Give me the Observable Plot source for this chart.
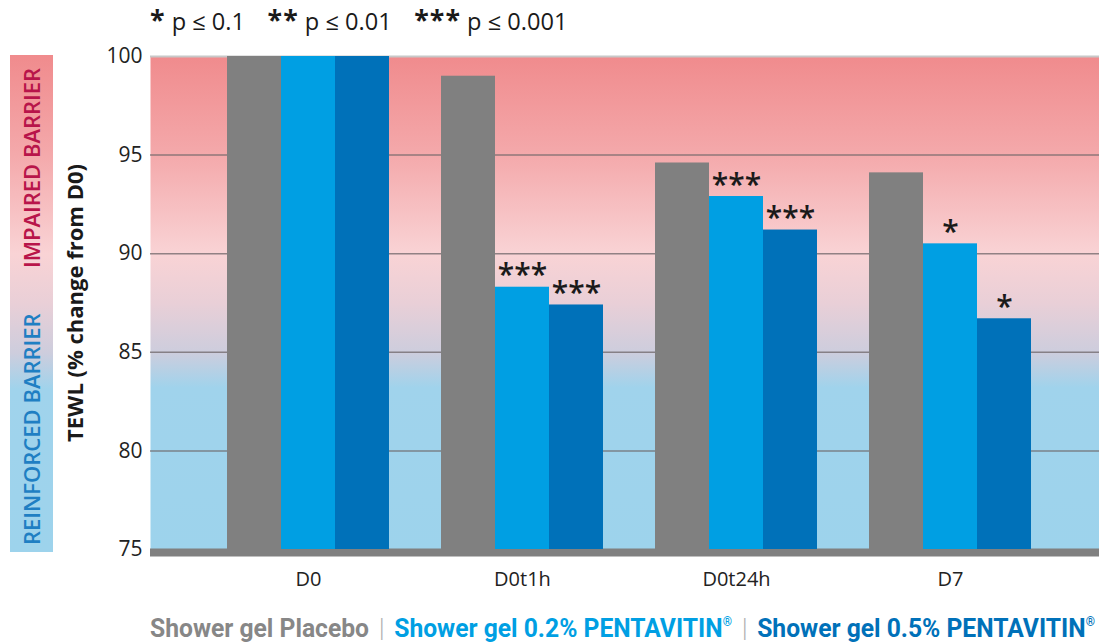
<!DOCTYPE html>
<html>
<head>
<meta charset="utf-8">
<script src="https://cdn.jsdelivr.net/npm/d3@7"></script>
<script src="https://cdn.jsdelivr.net/npm/@observablehq/plot@0.6"></script>
<style>
  html, body { margin: 0; padding: 0; background: #fff; }
  #wrap { position: relative; width: 1099px; height: 644px; overflow: hidden; font-family: "Open Sans", "Noto Sans", sans-serif; }
  #wrap .layer { position: absolute; left: 0; top: 0; }
  #sig { position: absolute; left: 150px; top: 0; height: 40px; line-height: 40px; font-size: 23px; color: #1a1a1a; white-space: nowrap; transform-origin: left center; }
  #sig b { font-weight: 700; font-size: 26px; letter-spacing: 1px; }
  #sig .grp { margin-right: 22px; }
  #legendbar { position: absolute; left: 10px; top: 55px; width: 43px; height: 497px; }
  #legendbar div { position: absolute; left: 0; width: 43px; writing-mode: vertical-rl; transform: rotate(180deg); text-align: center; font-size: 22px; font-weight: 600; line-height: 43px; }
  #series { position: absolute; left: 150px; top: 605px; height: 34px; line-height: 34px; white-space: nowrap; transform-origin: left center;
            font-family: "Roboto", "Open Sans", sans-serif; font-weight: 700; font-size: 25px; }
  #series .sep { color: #b0b0b0; font-weight: 300; margin: 0 10px; }
  #series sup { font-size: 12px; vertical-align: 11px; }
</style>
</head>
<body>
<div id="wrap"></div>
<script>
// ---- data ----
const groups = ["D0", "D0t1h", "D0t24h", "D7"];
const series = ["Shower gel Placebo", "Shower gel 0.2% PENTAVITIN", "Shower gel 0.5% PENTAVITIN"];
const placebo = [100, 99.0, 94.6, 94.1];
const penta02 = [100, 88.3, 92.9, 90.5];
const penta05 = [100, 87.4, 91.2, 86.7];
const stars02 = ["", "***", "***", "*"];
const stars05 = ["", "***", "***", "*"];
const yTicks = [75, 80, 85, 90, 95, 100];
const sigLegend = [["*", "p ≤ 0.1"], ["**", "p ≤ 0.01"], ["***", "p ≤ 0.001"]];
const zoneLabels = ["IMPAIRED BARRIER", "REINFORCED BARRIER"];
const yTitle = "TEWL (% change from D0)";

const colors = ["#808080", "#009fe3", "#0071b9"];
const textColors = ["#878787", "#009fe3", "#0071b9"];

const rows = [];
groups.forEach((g, i) => {
  rows.push({group: g, series: series[0], value: placebo[i], stars: ""});
  rows.push({group: g, series: series[1], value: penta02[i], stars: stars02[i]});
  rows.push({group: g, series: series[2], value: penta05[i], stars: stars05[i]});
});

const W = 1099, H = 610;
const margins = {marginTop: 56, marginBottom: 61, marginLeft: 150, marginRight: 0};
const yMin = yTicks[0], yMax = yTicks[yTicks.length - 1];

// background gradient stops (value -> colour)
const gradStops = [[100, "#f08b8d"], [95, "#f4a9ab"], [90, "#f9d3d5"], [87.5, "#e9cfd7"], [85, "#cdcddd"], [83.2, "#a0d3ec"], [75, "#9dd3ec"]];

const defsMark = () => {
  const defs = d3.create("svg:defs");
  const lg = defs.append("linearGradient").attr("id", "bgGrad").attr("x1", 0).attr("x2", 0).attr("y1", 0).attr("y2", 1);
  gradStops.forEach(([v, c]) => lg.append("stop").attr("offset", (yMax - v) / (yMax - yMin)).attr("stop-color", c));
  return defs.node();
};

const wrap = document.getElementById("wrap");

// Layer A: background, grid, y axis
const plotA = Plot.plot({
  width: W, height: H, ...margins,
  style: {background: "transparent", fontFamily: "Open Sans, Noto Sans, sans-serif", fontSize: "21px", color: "#222"},
  y: {domain: [yMin, yMax], ticks: yTicks, tickSize: 0, tickPadding: 8, label: null},
  marks: [
    defsMark,
    Plot.frame({fill: "url(#bgGrad)", stroke: null}),
    Plot.ruleY(yTicks.filter(t => t > yMin && t < yMax), {stroke: "#6e6668", strokeOpacity: 0.75, strokeWidth: 1.5}),
    Plot.ruleY([yMax], {stroke: "#c8c8c8", strokeWidth: 2}),
    Plot.ruleY([yMin], {stroke: "#808080", strokeWidth: 8, dy: 3}),
    Plot.text([yTitle], {frameAnchor: "left", textAnchor: "middle", rotate: -90, dx: -75, fontWeight: "bold", fontSize: 22, fill: "#1a1a1a"})
  ]
});
plotA.classList.add("layer");
wrap.appendChild(plotA);

// Layer B: grouped bars
const plotB = Plot.plot({
  width: W, height: H, ...margins,
  style: {background: "transparent", fontFamily: "Open Sans, Noto Sans, sans-serif", fontSize: "20px", color: "#222"},
  fx: {domain: groups, paddingInner: 0.234, paddingOuter: 0.334, align: 0.53, axis: "bottom", tickSize: 0, tickPadding: 22, label: null},
  x: {domain: series, padding: 0, axis: null},
  y: {domain: [yMin, yMax], axis: null},
  color: {domain: series, range: colors},
  marks: [
    Plot.barY(rows, {fx: "group", x: "series", y1: yMin, y2: "value", fill: "series", inset: 0}),
    Plot.text(rows.filter(d => d.stars), {fx: "group", x: "series", y: "value", text: "stars", dy: -2, lineAnchor: "bottom", fontSize: 30, fontWeight: 600, fill: "#1a1a1a"})
  ]
});
plotB.classList.add("layer");
wrap.appendChild(plotB);

// significance legend (top)
const sig = d3.select(wrap).append("div").attr("id", "sig");
sigLegend.forEach(([s, t]) => {
  const sp = sig.append("span").attr("class", "grp");
  sp.append("b").text(s);
  sp.append("span").text(" " + t);
});
{
  const w = sig.node().getBoundingClientRect().width;
  sig.style("transform", `scaleX(${440 / w})`);
}

// zone legend bar (left)
const lb = d3.select(wrap).append("div").attr("id", "legendbar")
  .style("background", "linear-gradient(to bottom, " + gradStops.map(([v, c]) => c + " " + ((yMax - v) / (yMax - yMin) * 100).toFixed(1) + "%").join(", ") + ")");
lb.append("div").style("top", "5px").style("height", "215px").style("color", "#b8154a").text(zoneLabels[0]);
lb.append("div").style("top", "252px").style("height", "245px").style("color", "#1f7fc3").text(zoneLabels[1]);

// series legend (bottom)
const sl = d3.select(wrap).append("div").attr("id", "series");
series.forEach((s, i) => {
  if (i > 0) sl.append("span").attr("class", "sep").text("|");
  const sp = sl.append("span").style("color", textColors[i]).text(s);
  if (i > 0) sp.append("sup").text("®");
});
{
  const w = sl.node().getBoundingClientRect().width;
  sl.style("transform", `scaleX(${945 / w})`);
}
</script>
</body>
</html>
